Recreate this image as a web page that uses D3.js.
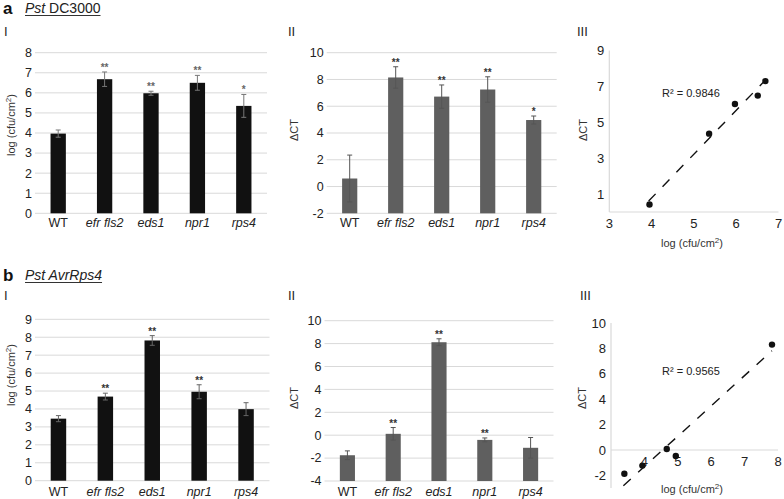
<!DOCTYPE html>
<html><head><meta charset="utf-8">
<script src="https://cdn.jsdelivr.net/npm/d3@7"></script>
<style>
body{margin:0;background:#fff;}
text{font-family:"Liberation Sans",Arial,sans-serif;}
</style></head>
<body><svg id="c" width="784" height="499"></svg>
<script>
// ---------- data ----------
const categories = ["WT", "efr fls2", "eds1", "npr1", "rps4"];
const italicCat = [false, true, true, true, true];

// panel a (Pst DC3000)
const aCfu     = [3.97, 6.68, 5.98, 6.50, 5.35];
const aCfuErr  = [0.18, 0.36, 0.10, 0.37, 0.57];
const aCfuSig  = ["", "**", "**", "**", "*"];
const aCt      = [0.60, 8.15, 6.72, 7.25, 4.97];
const aCtErr   = [1.75, 0.80, 0.87, 0.95, 0.30];
const aCtSig   = ["", "**", "**", "**", "*"];
const aScatX   = [3.95, 5.36, 5.97, 6.51, 6.69];
const aScatY   = [0.42, 4.37, 6.02, 6.49, 7.30];
const aTrend   = [[3.93, 0.61], [6.70, 7.38]];
const aR2      = "R² = 0.9846";
const aCfuTicks = [0,1,2,3,4,5,6,7,8];
const aCtTicks  = [-2,0,2,4,6,8,10];
const aScYTicks = [1,3,5,7,9];
const aScXTicks = [3,4,5,6,7];

// panel b (Pst AvrRps4)
const bCfu     = [3.46, 4.69, 7.82, 4.96, 3.99];
const bCfuErr  = [0.17, 0.19, 0.27, 0.39, 0.36];
const bCfuSig  = ["", "**", "**", "**", ""];
const bCt      = [-1.75, 0.12, 8.12, -0.41, -1.10];
const bCtErr   = [0.38, 0.55, 0.30, 0.17, 0.90];
const bCtSig   = ["", "**", "**", "**", ""];
const bScatX   = [3.40, 3.94, 4.67, 4.94, 7.82];
const bScatY   = [-1.87, -1.23, 0.08, -0.47, 8.30];
const bTrend   = [[3.37, -2.81], [7.82, 7.82]];
const bR2      = "R² = 0.9565";
const bCfuTicks = [0,1,2,3,4,5,6,7,8,9];
const bCtTicks  = [-4,-2,0,2,4,6,8,10];
const bScYTicks = [-2,0,2,4,6,8,10];
const bScXTicks = [4,5,6,7,8];

// ---------- drawing ----------
const svg = d3.select("#c");
const GRID = "#d9d9d9";

function header(letter, parts, y) {
  svg.append("text").attr("x", 3).attr("y", y + 6).attr("font-size", 17)
     .attr("font-weight", "bold").attr("fill", "#111").text(letter);
  const t = svg.append("text").attr("x", 25).attr("y", y + 5).attr("font-size", 14).attr("fill", "#222");
  parts.forEach(p => t.append("tspan").attr("font-style", p.it ? "italic" : "normal").text(p.s));
  const w = t.node().getComputedTextLength();
  svg.append("line").attr("x1", 25).attr("x2", 25 + w).attr("y1", y + 7.5).attr("y2", y + 7.5)
     .attr("stroke", "#333").attr("stroke-width", 1);
}
function roman(s, x, y) {
  svg.append("text").attr("x", x).attr("y", y + 5).attr("font-size", 13).attr("fill", "#222").text(s);
}
function yTitle(x, y, kind) {
  const t = svg.append("text").attr("transform", `translate(${x},${y}) rotate(-90)`)
     .attr("text-anchor", "middle").attr("dy", "0.35em").attr("font-size", 11).attr("fill", "#333");
  if (kind === "cfu") {
    t.append("tspan").text("log (cfu/cm");
    t.append("tspan").attr("font-size", 8).attr("dy", -4).text("2");
    t.append("tspan").attr("dy", 4).text(")");
  } else t.text("ΔCT");
}
function xTitle(x, y) {
  const t = svg.append("text").attr("x", x).attr("y", y).attr("text-anchor", "middle")
     .attr("dy", "0.35em").attr("font-size", 11).attr("fill", "#333");
  t.append("tspan").text("log (cfu/cm");
  t.append("tspan").attr("font-size", 8).attr("dy", -4).text("2");
  t.append("tspan").attr("dy", 4).text(")");
}

function barPanel(o) {
  const x = d3.scaleBand().domain(categories).range(o.xr).padding(0);
  const y = d3.scaleLinear().domain(o.yd).range(o.yr);
  const g = svg.append("g");
  g.selectAll(".gl").data(o.ticks).join("line")
    .attr("x1", o.xr[0]).attr("x2", o.xr[1])
    .attr("y1", d => y(d)).attr("y2", d => y(d))
    .attr("stroke", GRID).attr("stroke-width", 1);
  g.selectAll(".tl").data(o.ticks).join("text")
    .attr("x", o.xr[0] - 3).attr("y", d => y(d)).attr("dy", "0.35em")
    .attr("text-anchor", "end").attr("font-size", 12.5).attr("fill", "#222").text(d => d);
  const bw = x.bandwidth() * 0.33;
  const bot = y(o.yd[0]);
  g.selectAll(".bar").data(o.vals).join("rect")
    .attr("x", (d, i) => x(categories[i]) + x.bandwidth() / 2 - bw / 2)
    .attr("width", bw)
    .attr("y", d => Math.min(y(d), bot))
    .attr("height", d => Math.abs(bot - y(d)))
    .attr("fill", o.fill);
  o.vals.forEach((v, i) => {
    const cx = x(categories[i]) + x.bandwidth() / 2;
    const e = o.errs[i];
    const yt = y(v + e), yb = Math.min(y(v - e), bot);
    g.append("line").attr("x1", cx).attr("x2", cx).attr("y1", yt).attr("y2", yb)
      .attr("stroke", o.errColor).attr("stroke-width", 1);
    [yt, yb].forEach(yy => g.append("line").attr("x1", cx - 2.5).attr("x2", cx + 2.5)
      .attr("y1", yy).attr("y2", yy).attr("stroke", o.errColor).attr("stroke-width", 1));
    if (o.sig[i]) g.append("text").attr("x", cx).attr("y", yt - 1).attr("text-anchor", "middle")
      .attr("font-size", 10).attr("font-weight", "bold").attr("fill", o.starColor).text(o.sig[i]);
  });
  g.selectAll(".cl").data(categories).join("text")
    .attr("x", d => x(d) + x.bandwidth() / 2).attr("y", o.labY)
    .attr("text-anchor", "middle").attr("font-size", 12.5).attr("fill", "#222")
    .attr("font-style", (d, i) => italicCat[i] ? "italic" : "normal").text(d => d);
}

function scatterPanel(o) {
  const x = d3.scaleLinear().domain(o.xd).range(o.xr);
  const y = d3.scaleLinear().domain(o.yd).range(o.yr);
  const g = svg.append("g");
  g.append("line").attr("x1", x(o.xd[0])).attr("x2", x(o.xd[0])).attr("y1", y(o.yd[0])).attr("y2", y(o.yd[1]))
    .attr("stroke", GRID).attr("stroke-width", 1.2);
  const y0 = Math.max(o.yd[0], 0);
  g.append("line").attr("x1", x(o.xd[0])).attr("x2", x(o.xd[1])).attr("y1", y(y0)).attr("y2", y(y0))
    .attr("stroke", GRID).attr("stroke-width", 1.2);
  g.selectAll(".yt").data(o.yt).join("text")
    .attr("x", x(o.xd[0]) - 5).attr("y", d => y(d)).attr("dy", "0.35em")
    .attr("text-anchor", "end").attr("font-size", 13).attr("fill", "#222").text(d => d);
  g.selectAll(".xt").data(o.xt).join("text")
    .attr("x", d => x(d)).attr("y", y(y0) + 11).attr("dy", "0.35em")
    .attr("text-anchor", "middle").attr("font-size", 13).attr("fill", "#222").text(d => d);
  g.append("path").attr("d", d3.line().x(d => x(d[0])).y(d => y(d[1]))(o.trend))
    .attr("stroke", "#111").attr("stroke-width", 1.4).attr("fill", "none")
    .attr("stroke-dasharray", "10,10");
  g.selectAll(".pt").data(o.sx).join("circle")
    .attr("cx", d => x(d)).attr("cy", (d, i) => y(o.sy[i])).attr("r", 3.2).attr("fill", "#111");
  g.append("text").attr("x", o.r2x).attr("y", o.r2y).attr("dy", "0.35em")
    .attr("font-size", 11).attr("fill", "#222").text(o.r2);
}

// ----- panel a -----
header("a", [{s: "Pst", it: true}, {s: " DC3000", it: false}], 8);
roman("I", 4, 31); roman("II", 288, 31); roman("III", 577, 31);
yTitle(11, 125, "cfu");
barPanel({xr: [35, 267], yd: [0, 8], yr: [213.3, 52.7], ticks: aCfuTicks, vals: aCfu, errs: aCfuErr,
  sig: aCfuSig, fill: "#111", errColor: "#777", starColor: "#666", labY: 227});
yTitle(294, 130, "ct");
barPanel({xr: [326.7, 556.7], yd: [-2, 10], yr: [213.3, 52.7], ticks: aCtTicks, vals: aCt, errs: aCtErr,
  sig: aCtSig, fill: "#5f5f5f", errColor: "#555", starColor: "#333", labY: 227});
yTitle(583, 130, "ct");
scatterPanel({xd: [3, 7], xr: [609.3, 778.5], yd: [0, 9], yr: [212, 50.6], yt: aScYTicks, xt: aScXTicks,
  sx: aScatX, sy: aScatY, trend: aTrend, r2: aR2, r2x: 662, r2y: 93});
xTitle(692, 243);

// ----- panel b -----
header("b", [{s: "Pst AvrRps4", it: true}], 275);
roman("I", 4, 295); roman("II", 288, 295); roman("III", 580, 295);
yTitle(11, 375, "cfu");
barPanel({xr: [35, 269.5], yd: [0, 9], yr: [480.7, 319.3], ticks: bCfuTicks, vals: bCfu, errs: bCfuErr,
  sig: bCfuSig, fill: "#111", errColor: "#666", starColor: "#333", labY: 496});
yTitle(294, 398, "ct");
barPanel({xr: [324.5, 553.5], yd: [-4, 10], yr: [481, 320.7], ticks: bCtTicks, vals: bCt, errs: bCtErr,
  sig: bCtSig, fill: "#5f5f5f", errColor: "#555", starColor: "#333", labY: 496});
yTitle(582, 398, "ct");
scatterPanel({xd: [3, 8], xr: [611, 778], yd: [-3, 10], yr: [488.1, 323], yt: bScYTicks, xt: bScXTicks,
  sx: bScatX, sy: bScatY, trend: bTrend, r2: bR2, r2x: 662, r2y: 371});
xTitle(692, 489);
</script></body></html>
